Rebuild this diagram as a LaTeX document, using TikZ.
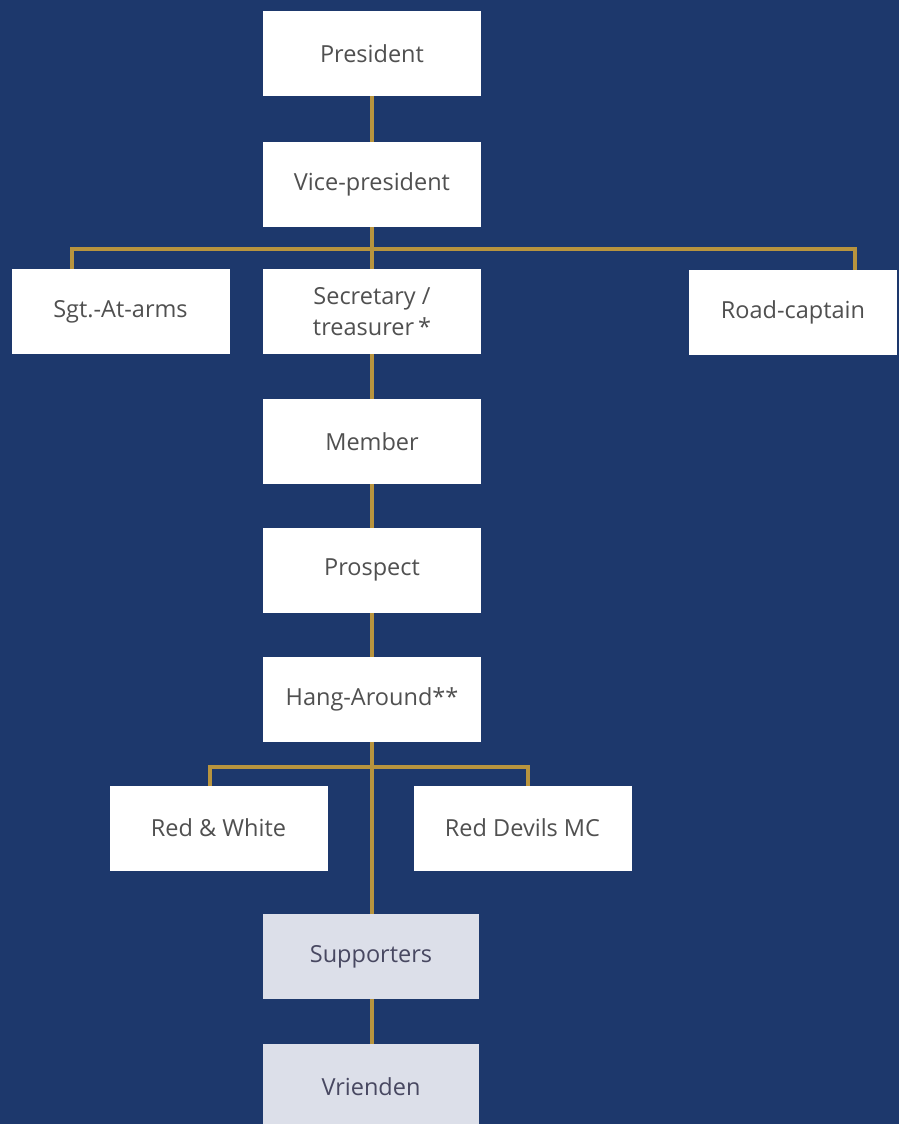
\documentclass[tikz,border=0pt]{standalone}
\usepackage{fontspec}
\setmainfont{Open Sans}
\definecolor{bg}{HTML}{1D386C}
\definecolor{gold}{HTML}{B8943E}
\definecolor{txt}{HTML}{505050}
\definecolor{pale}{HTML}{DCDFE9}
\begin{document}
\begin{tikzpicture}[x=1pt,y=-1pt,
  box/.style={fill=white, minimum width=218pt, minimum height=85pt, inner sep=0pt,
    text=txt, align=center, font=\fontsize{23.5}{31}\selectfont},
  palebox/.style={box, fill=pale, text=txt!90!blue},
  link/.style={draw=gold, line width=4pt}]
\useasboundingbox (0,0) rectangle (899,1124);
\clip (0,0) rectangle (899,1124);
\fill[bg] (0,0) rectangle (899,1124);
% coordinates of bus lines
\coordinate (b1) at (372,249);
\coordinate (b1l) at (72,249);
\coordinate (b1r) at (855,249);
\coordinate (b2) at (372,767);
\coordinate (b2l) at (210,767);
\coordinate (b2r) at (528,767);
% connectors (drawn first, under boxes)
\draw[link] (372,53) -- (372,1087);
\draw[link] (b1l |- 0,290) -- (b1l) -- (b1r) -- (b1r |- 0,290);
\draw[link] (b2l |- 0,800) -- (b2l) -- (b2r) -- (b2r |- 0,800);
% boxes
\node[box] (pres) at (372,53.5) {President};
\node[box] (vp) at (372,184) {Vice-president};
\node[box] (sgt) at (120.5,311.5) {Sgt.-At-arms};
\node[box] (sec) at (372,311.5) {Secretary /\\treasurer\,*};
\node[box, minimum width=208pt] (road) at (793,312) {Road-captain};
\node[box] (mem) at (372,441.5) {Member};
\node[box] (pro) at (372,570) {Prospect};
\node[box] (hang) at (372,699.5) {Hang-Around**};
\node[box] (rw) at (218.5,828) {Red \& White};
\node[box] (rd) at (522.5,828) {Red Devils MC};
\node[palebox, minimum width=216pt] (sup) at (371,956.5) {Supporters};
\node[palebox, minimum width=216pt, minimum height=86pt] (vri) at (371,1087) {Vrienden};
\end{tikzpicture}
\end{document}
